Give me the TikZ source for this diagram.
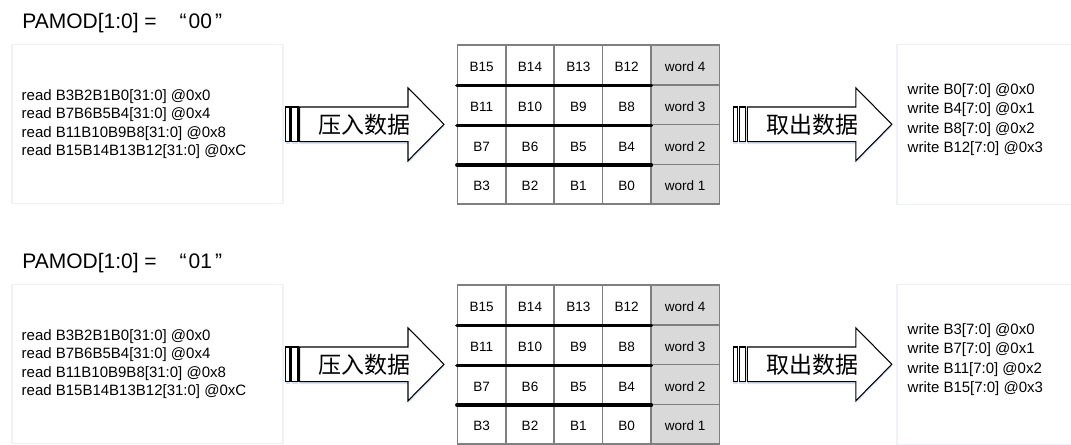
\documentclass[tikz,border=0pt]{standalone}
\usepackage{fontspec}
\setmainfont{Liberation Sans}
\newfontfamily\cjk{Noto Sans CJK SC}
\usepackage{xcolor}
\usepackage{tikz}
\usetikzlibrary{positioning, calc}

\definecolor{cellline}{HTML}{7F7F7F}
\definecolor{wordfill}{HTML}{D9D9D9}
\definecolor{boxline}{HTML}{EEF2F8}
\definecolor{glow}{HTML}{D3E1F2}

\begin{document}
\begin{tikzpicture}[
    x=0.02cm, y=-0.02cm,
    title/.style={anchor=base west, inner sep=0, font=\fontsize{11.95pt}{14pt}\selectfont},
    panel/.style={draw=boxline, fill=white, line width=0.8pt, minimum height=3.19cm, inner sep=0},
    readtxt/.style={anchor=west, align=left, inner sep=0, font=\fontsize{8.54pt}{10.41pt}\selectfont},
    writetxt/.style={anchor=west, align=left, inner sep=0, font=\fontsize{8.54pt}{11.0pt}\selectfont},
    bytecell/.style={draw=cellline, fill=white, line width=0.85pt, minimum width=0.966cm, minimum height=0.796cm, inner sep=0, text height=1.6ex, text depth=0.2ex, font=\fontsize{7.7pt}{9pt}\selectfont},
    wordcell/.style={bytecell, fill=wordfill, minimum width=1.372cm},
    divider/.style={line width=1.9pt, line cap=round},
    arrowbody/.style={draw=black, fill=white, line width=0.6pt, preaction={fill=glow, transform canvas={yshift=-0.05cm}}},
    arrowtxt/.style={inner sep=0, font=\cjk\fontsize{13.1pt}{15pt}\selectfont}
]
\useasboundingbox (0,0) rectangle (1071,444);

% Titels
\node[title] (modeA) at (22,28.5)  {PAMOD[1:0] =\hspace{0.46cm}“\hspace{0.04cm}00\hspace{0.06cm}”};
\node[title] (modeB) at (22,268.5) {PAMOD[1:0] =\hspace{0.46cm}“\hspace{0.04cm}01\hspace{0.06cm}”};

% Panelen links en rechts
\node[panel, minimum width=5.42cm] (inA)  at (147.5,124)   {};
\node[panel, minimum width=5.42cm] (inB)  at (147.5,364)   {};
\node[panel, minimum width=3.5cm]  (outA) at (984.5,124.5) {};
\node[panel, minimum width=3.5cm]  (outB) at (984.5,364.5) {};

\node[readtxt] (rdA) at ([xshift=0.2cm]inA.west) {read B3B2B1B0[31:0] @0x0\\read B7B6B5B4[31:0] @0x4\\read B11B10B9B8[31:0] @0x8\\read B15B14B13B12[31:0] @0xC};
\node[readtxt] (rdB) at ([xshift=0.2cm]inB.west) {read B3B2B1B0[31:0] @0x0\\read B7B6B5B4[31:0] @0x4\\read B11B10B9B8[31:0] @0x8\\read B15B14B13B12[31:0] @0xC};

\node[writetxt] (wrA) at ([xshift=0.22cm, yshift=0.1cm]outA.west) {write B0[7:0] @0x0\\write B4[7:0] @0x1\\write B8[7:0] @0x2\\write B12[7:0] @0x3};
\node[writetxt] (wrB) at ([xshift=0.22cm, yshift=0.1cm]outB.west) {write B3[7:0] @0x0\\write B7[7:0] @0x1\\write B11[7:0] @0x2\\write B15[7:0] @0x3};

% Tabellen
\foreach \tb/\oy in {a/0, b/240} {
    \foreach \i in {0,...,3} {
        \pgfmathtruncatemacro{\w}{4-\i}
        \node[wordcell] (t\tb-\i-4) at (685.05, 64.9+39.8*\i+\oy) {word \w};
        \foreach \c in {0,...,3} {
            \pgfmathtruncatemacro{\byte}{4*(3-\i)+3-\c}
            \node[bytecell] (t\tb-\i-\c) at (481.7+48.3*\c, 64.9+39.8*\i+\oy) {B\byte};
        }
    }
    \foreach \i in {0,1,2}
        \draw[divider] (t\tb-\i-0.south west) -- (t\tb-\i-3.south east);
}

% Pijlen
\foreach \ax/\ay/\an/\txt in {285.5/124.3/pa/压入数据, 733.3/124.3/pb/取出数据, 285.5/364.3/pc/压入数据, 733.3/364.3/pd/取出数据} {
    \draw[arrowbody] (\ax,\ay-17.3) rectangle (\ax+4.5,\ay+17.3);
    \draw[arrowbody] (\ax+6,\ay-17.3) rectangle (\ax+12.5,\ay+17.3);
    \draw[arrowbody] (\ax+14,\ay-17.3) -- (\ax+122.5,\ay-17.3) -- (\ax+122.5,\ay-36.5) -- (\ax+158.5,\ay)
        -- (\ax+122.5,\ay+36.5) -- (\ax+122.5,\ay+17.3) -- (\ax+14,\ay+17.3) -- cycle;
    \node[arrowtxt] (\an) at (\ax+78.8,\ay) {\txt};
}

\end{tikzpicture}
\end{document}
